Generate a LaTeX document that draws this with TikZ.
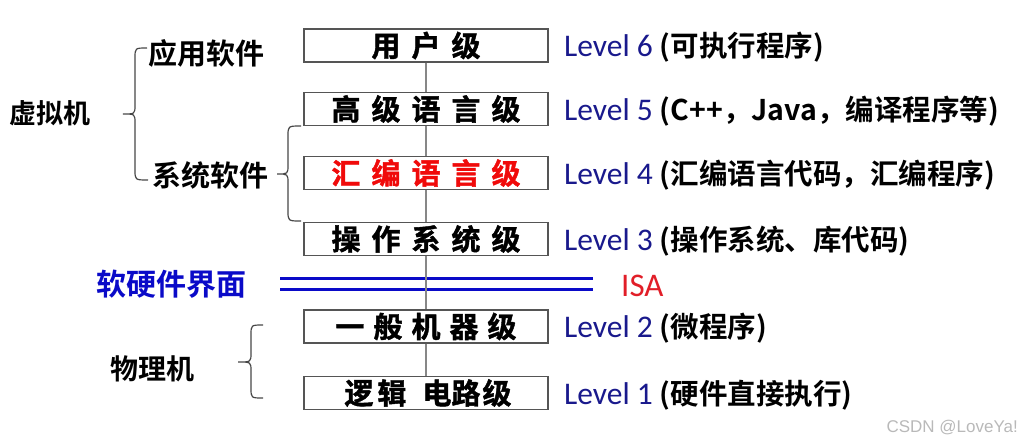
\documentclass[tikz,border=0pt]{standalone}
\usepackage{fontspec}
\setmainfont{Carlito}
\newfontfamily\cjkb{Noto Sans CJK SC Bold}
\newfontfamily\cjkh{Noto Sans CJK SC Bold}[FakeBold=1.4]
\newfontfamily\wmfont{Liberation Sans}
\definecolor{navytxt}{RGB}{25,25,140}
\definecolor{isared}{RGB}{225,30,40}
\definecolor{hired}{RGB}{240,10,10}
\definecolor{ifblue}{RGB}{10,10,200}
\definecolor{boxgray}{RGB}{85,85,85}
\definecolor{linegray}{RGB}{135,135,135}
\definecolor{bracegray}{RGB}{70,70,70}
\definecolor{wmgray}{RGB}{185,185,185}
\newcommand\lvtxt[2]{{\color{navytxt}\fontsize{31.5}{37}\selectfont Level #1\ }{\cjkb\fontsize{28.5}{34}\selectfont (#2)}}
\newcommand\bsp{\hspace{11pt}}
\begin{document}
\begin{tikzpicture}[x=1pt,y=-1pt,
  lvbox/.style={draw=boxgray, line width=1.3pt, fill=white, minimum width=244pt,
    minimum height=33pt, inner sep=0pt, font=\cjkh\fontsize{29}{34}\selectfont},
  lvlabel/.style={anchor=base west, inner sep=0pt},
  sidelabel/.style={inner sep=0pt},
  bracepath/.style={draw=bracegray, line width=1.2pt},
  conn/.style={draw=linegray, line width=1.5pt},
  isaline/.style={draw=ifblue, line width=3pt}]
\useasboundingbox (0,0) rectangle (1023,447);

% boxes
\node[lvbox] (b1) at (426,45.5) {用\bsp 户\bsp 级};
\node[lvbox] (b2) at (426,109) {高\bsp 级\bsp 语\bsp 言\bsp 级};
\node[lvbox, text=hired] (b3) at (426,173) {汇\bsp 编\bsp 语\bsp 言\bsp 级};
\node[lvbox] (b4) at (426,239) {操\bsp 作\bsp 系\bsp 统\bsp 级};
\node[lvbox] (b5) at (426,326.5) {一\hspace{9pt}般\hspace{9pt}机\hspace{9pt}器\hspace{9pt}级};
\node[lvbox] (b6) at (426,393) {\hspace{4pt}逻\hspace{4pt}辑\hspace{16pt}电路\hspace{2pt}级};

% level descriptions
\node[lvlabel] (l6) at (564,56.5) {\lvtxt{6}{可执行程序}};
\node[lvlabel] (l5) at (564,120) {\lvtxt{5}{C++，Java，编译程序等}};
\node[lvlabel] (l4) at (564,184) {\lvtxt{4}{汇编语言代码，汇编程序}};
\node[lvlabel] (l3) at (564,250) {\lvtxt{3}{操作系统、库代码}};
\node[lvlabel] (l2) at (564,337.5) {\lvtxt{2}{微程序}};
\node[lvlabel] (l1) at (564,404) {\lvtxt{1}{硬件直接执行}};

% ISA interface
\coordinate (ia1) at (280,278);
\coordinate (ib1) at (593,278);
\coordinate (ia2) at (280,289);
\coordinate (ib2) at (593,289);
\draw[isaline] (ia1) -- (ib1);
\draw[isaline] (ia2) -- (ib2);
\node[lvlabel, text=isared, font=\fontsize{33}{39}\selectfont] (isa) at (621,296) {ISA};
\node[sidelabel, text=ifblue, font=\cjkb\fontsize{30}{36}\selectfont] (iface) at (171,284) {软硬件界面};

% vertical connector
\draw[conn] (b1.south) -- (b2.north);
\draw[conn] (b2.south) -- (b3.north);
\draw[conn] (b3.south) -- (b4.north);
\draw[conn] (b4.south) -- (b5.north);
\draw[conn] (b5.south) -- (b6.north);

% side labels
\node[sidelabel, font=\cjkb\fontsize{27}{32}\selectfont] (vm) at (50,113.5) {虚拟机};
\node[sidelabel, font=\cjkb\fontsize{29}{34}\selectfont] (app) at (206,53.5) {应用软件};
\node[sidelabel, font=\cjkb\fontsize{29}{34}\selectfont] (sys) at (210,175.5) {系统软件};
\node[sidelabel, font=\cjkb\fontsize{28}{33}\selectfont] (pm) at (152,369) {物理机};

% braces
\draw[bracepath] (147,48) .. controls (135,48) .. (135,58) -- (135,105)
  .. controls (135,114) .. (123,114) .. controls (135,114) .. (135,123)
  -- (135,170) .. controls (135,180) .. (148,180);
\draw[bracepath] (301,126) .. controls (288,126) .. (288,136) -- (288,165)
  .. controls (288,174) .. (277,174) .. controls (288,174) .. (288,183)
  -- (288,211) .. controls (288,221) .. (301,221);
\draw[bracepath] (263,325) .. controls (251,325) .. (251,335) -- (251,353)
  .. controls (251,362) .. (238,362) .. controls (251,362) .. (251,371)
  -- (251,388) .. controls (251,398) .. (263,398);

% watermark
\node[anchor=east, inner sep=0pt, text=wmgray, font=\wmfont\fontsize{17}{20}\selectfont] (wm) at (1018,428) {CSDN @LoveYa!};
\end{tikzpicture}
\end{document}
